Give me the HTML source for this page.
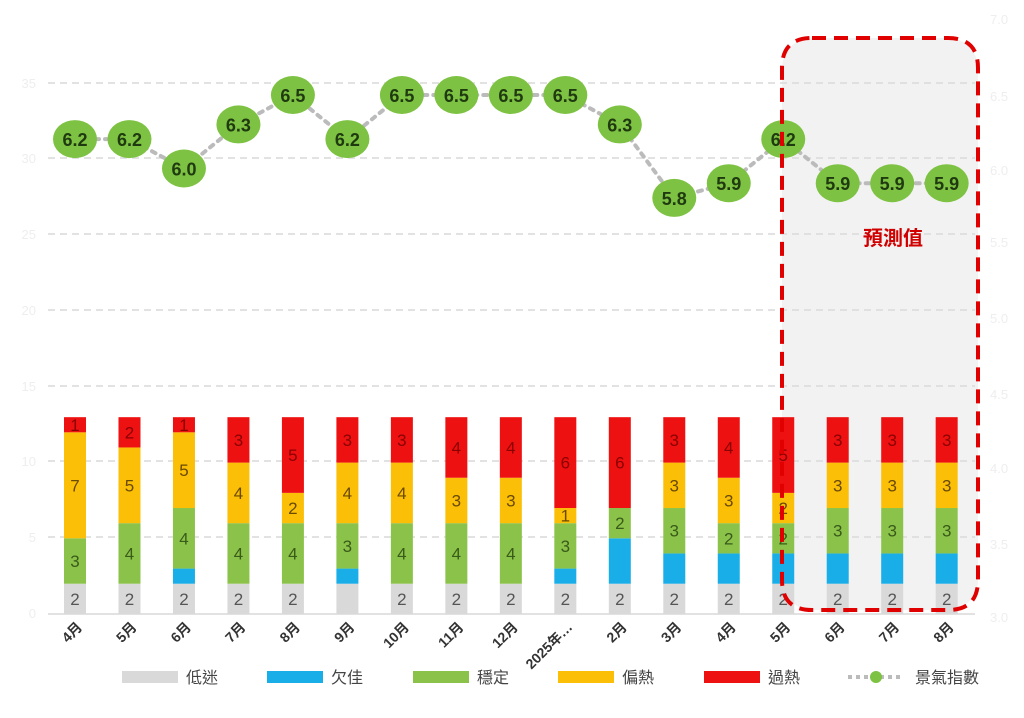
<!DOCTYPE html>
<html><head><meta charset="utf-8"><style>
body{margin:0;background:#fff}
svg{display:block}
text{font-family:"Liberation Sans","Noto Sans CJK TC",sans-serif}
</style></head><body>
<svg width="1024" height="718" viewBox="0 0 1024 718">
<rect x="782" y="38" width="196" height="572" rx="30" fill="#f2f2f2"/>
<g stroke="#d9d9d9" stroke-width="1.5" stroke-dasharray="7,5">
<line x1="48" y1="83" x2="975" y2="83"/><line x1="48" y1="158" x2="975" y2="158"/>
<line x1="48" y1="234" x2="975" y2="234"/><line x1="48" y1="310" x2="975" y2="310"/>
<line x1="48" y1="386" x2="975" y2="386"/><line x1="48" y1="461" x2="975" y2="461"/>
<line x1="48" y1="537" x2="975" y2="537"/>
</g>
<line x1="48" y1="614" x2="975" y2="614" stroke="#d9d9d9" stroke-width="1.5"/>
<g fill="#eeeeee" font-size="13" text-anchor="end">
<text x="36" y="88">35</text><text x="36" y="163">30</text><text x="36" y="239">25</text><text x="36" y="315">20</text><text x="36" y="391">15</text><text x="36" y="466">10</text><text x="36" y="542">5</text><text x="36" y="618">0</text>
</g>
<g fill="#eeeeee" font-size="13">
<text x="990" y="24">7.0</text><text x="990" y="101">6.5</text><text x="990" y="175">6.0</text><text x="990" y="247">5.5</text><text x="990" y="323">5.0</text><text x="990" y="399">4.5</text><text x="990" y="473">4.0</text><text x="990" y="549">3.5</text><text x="990" y="622">3.0</text>
</g>
<g id="bars"></g>
<g id="line"></g>
<path d="M812,38 H948 Q978,38 978,68 V580 Q978,610 948,610 H812 Q782,610 782,580 V68 Q782,38 812,38 Z" fill="none" stroke="#e00000" stroke-width="4" stroke-dasharray="14,8"/>
<text x="893" y="245" text-anchor="middle" font-size="20" font-weight="bold" fill="#d00000">預測值</text>
<g id="xl"></g>
<g font-size="16" fill="#444">
<rect x="122" y="671" width="56" height="12" fill="#d9d9d9"/><text x="186" y="683">低迷</text>
<rect x="267" y="671" width="56" height="12" fill="#1aaee8"/><text x="331" y="683">欠佳</text>
<rect x="413" y="671" width="56" height="12" fill="#8bc34a"/><text x="477" y="683">穩定</text>
<rect x="558" y="671" width="56" height="12" fill="#fbbf07"/><text x="622" y="683">偏熱</text>
<rect x="704" y="671" width="56" height="12" fill="#ee1111"/><text x="768" y="683">過熱</text>
<line x1="848" y1="677" x2="904" y2="677" stroke="#bbb" stroke-width="4" stroke-dasharray="4,4"/>
<circle cx="876" cy="677" r="6" fill="#7dc242"/><text x="915" y="683">景氣指數</text>
</g>
<script>
var d=[[2,0,3,7,1],[2,0,4,5,2],[2,1,4,5,1],[2,0,4,4,3],[2,0,4,2,5],[2,1,3,4,3],[2,0,4,4,3],[2,0,4,3,4],[2,0,4,3,4],[2,1,3,1,6],[2,3,2,0,6],[2,2,3,3,3],[2,2,2,3,4],[2,2,2,2,5],[2,2,3,3,3],[2,2,3,3,3],[2,2,3,3,3]];
var L=[6.2,6.2,6.0,6.3,6.5,6.2,6.5,6.5,6.5,6.5,6.3,5.8,5.9,6.2,5.9,5.9,5.9];
var xs=["4月","5月","6月","7月","8月","9月","10月","11月","12月","2025年…","2月","3月","4月","5月","6月","7月","8月"];
var col=["#d9d9d9","#1aaee8","#8bc34a","#fbbf07","#ee1111"];
var tc=["#555","#555","#3a5a1a","#6a4a00","#8a0000"];
var ns="http://www.w3.org/2000/svg";
function el(t,a,p,txt){var e=document.createElementNS(ns,t);for(var k in a)e.setAttribute(k,a[k]);if(txt!=null)e.textContent=txt;p.appendChild(e);return e;}
var B=document.getElementById("bars"),G=document.getElementById("line"),X=document.getElementById("xl");
var u=15.14;
for(var i=0;i<17;i++){var cx=75+i*54.48;var y=614;
for(var j=0;j<5;j++){var v=d[i][j];if(!v)continue;var h=v*u;y-=h;
el("rect",{x:cx-11,y:y,width:22,height:h,fill:col[j]},B);
if(!(i==5&&j==0)&&!(j==1))el("text",{x:cx,y:y+h/2+6,"text-anchor":"middle","font-size":"17","font-family":"Liberation Serif,serif",fill:tc[j]},B,v);}
el("text",{x:cx+8,y:628,"text-anchor":"end","font-size":"14","font-weight":"bold",fill:"#333",transform:"rotate(-45 "+(cx+8)+" 628)"},X,xs[i]);}
var pts=L.map(function(v,i){return [75+i*54.48,95+(6.5-v)*147];});
el("polyline",{points:pts.map(function(p){return p.join(",")}).join(" "),fill:"none",stroke:"#bbb","stroke-width":"4","stroke-dasharray":"4,6","stroke-linecap":"round"},G);
pts.forEach(function(p,i){el("ellipse",{cx:p[0],cy:p[1],rx:22,ry:19,fill:"#7dc242"},G);
el("text",{x:p[0],y:p[1]+7,"text-anchor":"middle","font-size":"18","font-weight":"bold","font-family":"Liberation Mono,monospace",fill:"#1f3a10"},G,L[i].toFixed(1));});
</script>
</svg>
</body></html>
